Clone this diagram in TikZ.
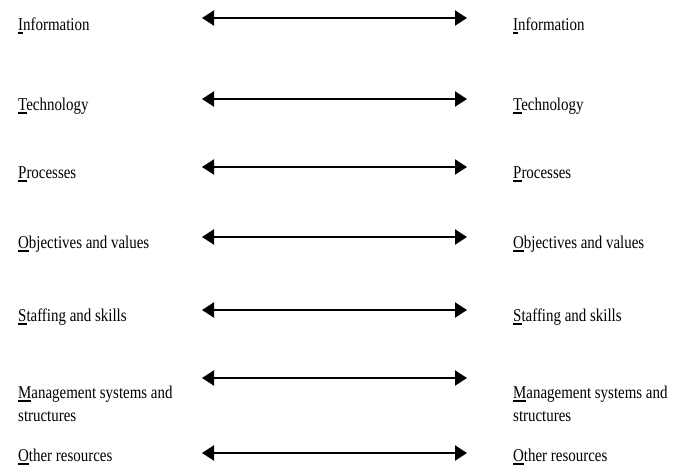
\documentclass[tikz,border=0pt]{standalone}
\usepackage{fontspec}
\setmainfont[FakeStretch=0.83]{Liberation Serif}
\usepackage{tikz}
\usetikzlibrary{positioning,arrows.meta}

% first letter with a heavy underline
\newcommand{\ul}[1]{\setbox0\hbox{#1}\rlap{\rule[-4pt]{\wd0}{1.8pt}}#1}

\begin{document}
\begin{tikzpicture}[x=1pt,y=-1pt]
\tikzset{every node/.style={inner sep=0pt,font=\fontsize{18}{23}\selectfont},
  lbl/.style={anchor=base west,align=left},
  link/.style={{Triangle[length=12pt,width=15pt]}-{Triangle[length=12pt,width=15pt]},line width=2pt}}
\useasboundingbox (0,0) rectangle (691,467);
% row / arrow height / baseline of last text line / text
\foreach \n/\y/\b/\t in {1/18/30/{\ul{I}nformation},
                      2/99/110/{\ul{T}echnology},
                      3/167/178/{\ul{P}rocesses},
                      4/237/248/{\ul{O}bjectives and values},
                      5/310/321/{\ul{S}taffing and skills},
                      6/378/421/{\ul{M}anagement systems and\\structures},
                      7/453/461/{\ul{O}ther resources}}{
  \node[lbl] (l\n) at (18,\b) {\t};
  \node[lbl] (r\n) at (513,\b) {\t};
  \coordinate (la\n) at (202,\y);
  \coordinate (ra\n) at (467,\y);
  \draw[link] (la\n) -- (ra\n);
}
\end{tikzpicture}
\end{document}
